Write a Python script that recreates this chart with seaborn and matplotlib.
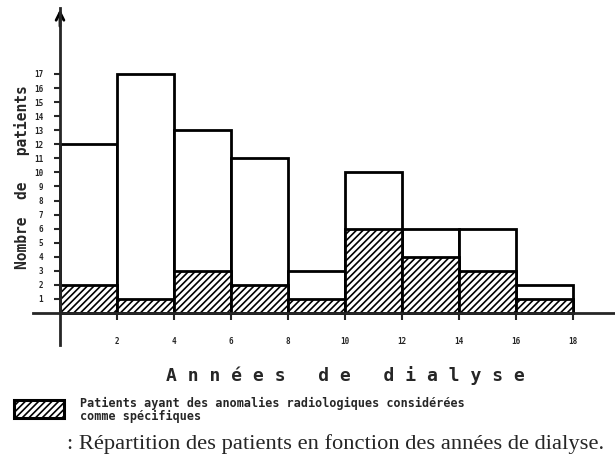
import numpy as np
import matplotlib
matplotlib.use('Agg')
import matplotlib.pyplot as plt
from matplotlib.patches import Rectangle
import seaborn as sns

# classes of dialysis years (bin edges, 2-year steps)
edges = [0, 2, 4, 6, 8, 10, 12, 14, 16, 18]
# all patients per class
total_patients = [12, 17, 13, 11, 3, 10, 6, 6, 2]
# patients with radiological anomalies considered specific
specific_patients = [2, 1, 3, 2, 1, 6, 4, 3, 1]

y_ticks = list(range(1, 18))
x_ticks = [2, 4, 6, 8, 10, 12, 14, 16, 18]

centers = [(a + b) / 2 for a, b in zip(edges[:-1], edges[1:])]

sns.set_style('white')
plt.rcParams['font.family'] = ['DejaVu Sans', 'DejaVu Sans Mono']
plt.rcParams['hatch.linewidth'] = 1.2

X0, XS = 60, 28.5     # pixel of x=0 and pixels per year
Y0, YS = 313, 14.06   # pixel of y=0 and pixels per patient

fig = plt.figure(figsize=(6.15, 4.65), dpi=100)
ax = fig.add_axes([33 / 615, 1 - 345 / 465, (615 - 33) / 615, (345 - 8) / 465])

sns.histplot(x=centers, weights=total_patients, bins=edges, ax=ax,
             color='white', edgecolor='black', linewidth=2, alpha=1)
sns.histplot(x=centers, weights=specific_patients, bins=edges, ax=ax,
             color='white', edgecolor='black', linewidth=2, alpha=1, hatch='/////')

ax.set_xlim((33 - X0) / XS, (615 - X0) / XS)
ax.set_ylim(-(345 - Y0) / YS, (Y0 - 8) / YS)

for s in ['top', 'right']:
    ax.spines[s].set_visible(False)
ax.spines['left'].set_position(('data', 0))
ax.spines['bottom'].set_position(('data', 0))
ax.spines['left'].set_linewidth(2)
ax.spines['bottom'].set_linewidth(2)
ax.spines['left'].set_zorder(5)
ax.spines['bottom'].set_zorder(5)

ax.set_yticks(y_ticks)
ax.set_yticklabels([str(t) for t in y_ticks], fontsize=5.5, fontweight='bold',
                   family='DejaVu Sans Mono')
ax.set_xticks(x_ticks)
ax.set_xticklabels([str(t) for t in x_ticks], fontsize=5.5, fontweight='bold',
                   family='DejaVu Sans Mono')
ax.tick_params(axis='y', direction='out', length=4, width=1.5, pad=8, left=True)
ax.tick_params(axis='x', direction='out', length=5, width=1.5, pad=12, bottom=True)
ax.set_xlabel('')
ax.set_ylabel('')

# arrow head on the y axis
ytop = ax.get_ylim()[1]
ax.annotate('', xy=(0, ytop + 0.1), xytext=(0, ytop - 1.5),
            arrowprops=dict(arrowstyle='->', lw=2, color='black',
                            mutation_scale=14), annotation_clip=False)

fig.text(22 / 615, 1 - 177 / 465, 'Nombre  de   patients', rotation=90,
         ha='center', va='center', fontsize=10.5, fontweight='bold',
         family='DejaVu Sans Mono')
fig.text(345 / 615, 1 - 376 / 465, 'A n n é e s   d e   d i a l y s e',
         ha='center', va='center', fontsize=13, fontweight='bold',
         family='DejaVu Sans Mono')

# legend box
fig.add_artist(Rectangle((14 / 615, 1 - 418 / 465), 50 / 615, 18 / 465,
                         transform=fig.transFigure, facecolor='white',
                         edgecolor='black', linewidth=2.2, hatch='/////'))
fig.text(80 / 615, 1 - 403 / 465,
         'Patients ayant des anomalies radiologiques considérées',
         ha='left', va='center', fontsize=8.5, fontweight='bold',
         family='DejaVu Sans Mono')
fig.text(80 / 615, 1 - 416 / 465, 'comme spécifiques',
         ha='left', va='center', fontsize=8.5, fontweight='bold',
         family='DejaVu Sans Mono')

fig.text(67 / 615, 1 - 444 / 465,
         ': Répartition des patients en fonction des années de dialyse.',
         ha='left', va='center', fontsize=16.2, family='Liberation Serif')

fig.savefig('out.png', dpi=100)
